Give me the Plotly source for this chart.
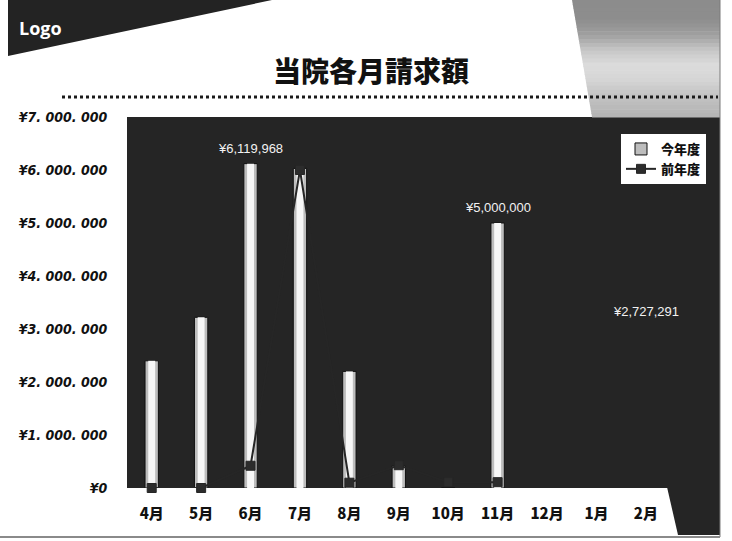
import plotly.graph_objects as go

# ---- data ----
months = ["4月", "5月", "6月", "7月", "8月", "9月", "10月", "11月", "12月", "1月", "2月", "3月"]
this_year = [2400000, 3220000, 6119968, 6030000, 2200000, 420000, 0, 5000000, None, None, None, None]
last_year = [0, 0, 420000, 6000000, 100000, 430000, 110000, 110000, None, None, None, None]
label_months = ["6月", "11月", "2月"]
label_values = [6119968, 5000000, 2727291]
label_texts = ["¥6,119,968", "¥5,000,000", "¥2,727,291"]
label_shift = [6, 6, 22]
y_tickvals = [0, 1000000, 2000000, 3000000, 4000000, 5000000, 6000000, 7000000]
y_ticktext = ["¥0", "¥1. 000. 000", "¥2. 000. 000", "¥3. 000. 000", "¥4. 000. 000",
              "¥5. 000. 000", "¥6. 000. 000", "¥7. 000. 000"]
series_names = ["今年度", "前年度"]
title_text = "当院各月請求額"

W, H = 732, 541
L, R, T, B = 127, 12, 117, 53
PW, PH = W - L - R, H - T - B
BG = "#252525"


def px(x):
    return (x - L) / PW


def py(y):
    return (H - B - y) / PH


fig = go.Figure()
fig.add_trace(go.Bar(
    x=months, y=this_year, name=series_names[0], width=0.27,
    marker=dict(color="#bdbdbd", line=dict(color="#111111", width=1)),
))
fig.add_trace(go.Bar(
    x=months, y=this_year, showlegend=False, width=0.14,
    marker=dict(color="#f7f7f7", line=dict(width=0)), hoverinfo="skip",
))
fig.add_trace(go.Scatter(
    x=months, y=last_year, name=series_names[1], mode="lines+markers",
    line=dict(color="#262626", width=2),
    marker=dict(symbol="square", size=9, color="#2c2c2c", line=dict(color="#262626", width=1)),
    cliponaxis=False,
))

shapes = []
# top-left logo triangle
shapes.append(dict(type="path", xref="paper", yref="paper",
                   path=f"M {px(8)} {py(0)} L {px(272)} {py(0)} L {px(8)} {py(56)} Z",
                   fillcolor="#232323", line=dict(width=0), layer="above"))
# top-right gray gradient (strips)
stops = [(0, 140), (20, 142), (35, 160), (50, 198), (65, 220), (80, 214), (95, 196), (117, 180)]


def gray_at(y):
    for (ya, ga), (yb, gb) in zip(stops[:-1], stops[1:]):
        if ya <= y <= yb:
            return ga + (gb - ga) * (y - ya) / (yb - ya)
    return stops[-1][1]


n = 30
for i in range(n):
    y0 = i * 117 / n
    y1 = (i + 1) * 117 / n + 0.6
    g = int(gray_at((y0 + y1) / 2))
    xa = 572 + 20 * y0 / 117
    xb = 572 + 20 * y1 / 117
    shapes.append(dict(type="path", xref="paper", yref="paper",
                       path=f"M {px(xa)} {py(y0)} L {px(720)} {py(y0)} L {px(720)} {py(y1)} L {px(xb)} {py(y1)} Z",
                       fillcolor=f"rgb({g},{g},{g})", line=dict(width=0), layer="above"))
# dotted line under title
shapes.append(dict(type="line", xref="paper", yref="paper",
                   x0=px(62), x1=px(718), y0=py(97), y1=py(97),
                   line=dict(color="#1a1a1a", width=3, dash="dot"), layer="above"))
# bottom-right dark polygon
shapes.append(dict(type="path", xref="paper", yref="paper",
                   path=f"M {px(667)} {py(487)} L {px(720)} {py(487)} L {px(720)} {py(535)} L {px(678)} {py(535)} Z",
                   fillcolor=BG, line=dict(width=0), layer="above"))
# right vertical border line
shapes.append(dict(type="line", xref="paper", yref="paper",
                   x0=px(720), x1=px(720), y0=py(0), y1=py(537),
                   line=dict(color="#7a7a7a", width=1), layer="above"))
# bottom line
shapes.append(dict(type="line", xref="paper", yref="paper",
                   x0=px(0), x1=px(720), y0=py(537), y1=py(537),
                   line=dict(color="#8a8a8a", width=2), layer="above"))

annotations = [
    dict(text="Logo", xref="paper", yref="paper", x=px(17), y=py(28),
         xanchor="left", yanchor="middle", showarrow=False,
         font=dict(family="Open Sans, Noto Sans, sans-serif", size=18, color="white", weight=700)),
    dict(text=title_text, xref="paper", yref="paper", x=px(371), y=py(70),
         xanchor="center", yanchor="middle", showarrow=False,
         font=dict(family="Noto Sans CJK JP", size=28, color="#111111", weight=900)),
]
for m, v, t, s in zip(label_months, label_values, label_texts, label_shift):
    annotations.append(dict(text=t, x=m, y=v, xref="x", yref="y", yanchor="bottom",
                            yshift=s, showarrow=False,
                            font=dict(family="Liberation Sans, Arial, sans-serif", size=13, color="#f2f2f2")))

fig.update_layout(
    width=W, height=H,
    margin=dict(l=L, r=R, t=T, b=B, pad=0),
    paper_bgcolor="white", plot_bgcolor=BG,
    barmode="overlay", bargap=0.7,
    shapes=shapes, annotations=annotations,
    showlegend=True,
    legend=dict(x=px(621), y=py(134), xanchor="left", yanchor="top",
                bgcolor="white", borderwidth=0, traceorder="normal",
                font=dict(family="Noto Sans CJK JP", size=13, color="#111111", weight=900),
                itemwidth=30, tracegroupgap=0),
    xaxis=dict(type="category", categoryorder="array", categoryarray=months,
               range=[-0.5, len(months) - 0.5], showgrid=False, zeroline=False, showline=False,
               ticks="outside", ticklen=12, tickcolor="rgba(0,0,0,0)",
               tickfont=dict(family="Noto Sans CJK JP", size=15, color="#111111", weight=900)),
    yaxis=dict(range=[0, 7000000], tickvals=y_tickvals, ticktext=y_ticktext,
               showgrid=False, zeroline=False, showline=False,
               ticks="outside", ticklen=16, tickcolor="rgba(0,0,0,0)",
               tickfont=dict(family="DejaVu Sans Condensed, DejaVu Sans, sans-serif",
                             size=14, color="#111111", weight=700, style="italic")),
)

fig.write_html("out.html")
